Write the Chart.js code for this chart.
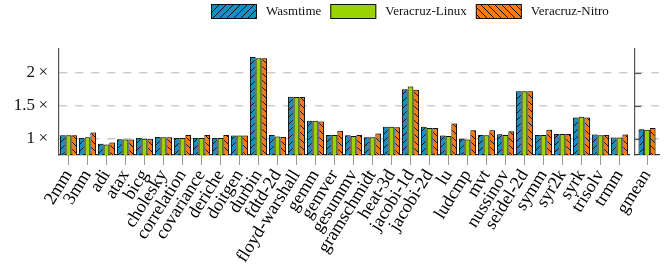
<!DOCTYPE html>
<html><head><meta charset="utf-8">
<script src="https://cdn.jsdelivr.net/npm/chart.js@4"></script>
<style>
html,body{margin:0;padding:0;background:#fff;}
#wrap{position:relative;width:666px;height:273px;overflow:hidden;}
#main{position:absolute;left:0;top:0;}
#gm{position:absolute;left:596px;top:0;}
</style></head><body>
<div id="wrap"><canvas id="main" width="666" height="273"></canvas><canvas id="gm" width="70" height="273"></canvas></div>
<script>
const categories = ['2mm','3mm','adi','atax','bicg','cholesky','correlation','covariance','deriche','doitgen','durbin','fdtd-2d','floyd-warshall','gemm','gemver','gesummv','gramschmidt','heat-3d','jacobi-1d','jacobi-2d','lu','ludcmp','mvt','nussinov','seidel-2d','symm','syr2k','syrk','trisolv','trmm'];
const wasmtime = [1.05,1.01,0.92,0.99,1.01,1.025,1.01,1.01,1.01,1.045,2.24,1.055,1.635,1.27,1.055,1.05,1.02,1.18,1.75,1.18,1.045,0.995,1.055,1.065,1.72,1.055,1.07,1.32,1.06,1.015];
const veracruzLinux = [1.05,1.02,0.91,0.985,0.995,1.02,1.01,1.01,1.01,1.045,2.22,1.03,1.63,1.27,1.055,1.04,1.02,1.18,1.79,1.16,1.04,0.985,1.05,1.055,1.72,1.055,1.07,1.33,1.05,1.015];
const veracruzNitro = [1.05,1.09,0.94,0.985,0.995,1.02,1.055,1.055,1.055,1.045,2.22,1.025,1.63,1.26,1.12,1.055,1.075,1.17,1.74,1.16,1.23,1.125,1.125,1.11,1.72,1.135,1.07,1.32,1.055,1.06];
const gmeanCategories = ['gmean'];
const gmeanWasmtime = [1.14];
const gmeanLinux = [1.135];
const gmeanNitro = [1.16];
const seriesNames = ['Wasmtime','Veracruz-Linux','Veracruz-Nitro'];
const yTickValues = [1, 1.5, 2];
const yTickLabels = ['1\u2009\u00d7','1.5\u2009\u00d7','2\u2009\u00d7'];

const SERIF = '"Liberation Serif", "Times New Roman", serif';
function hatch(color, dir){
  const s = 7, c = document.createElement('canvas');
  c.width = c.height = s;
  const g = c.getContext('2d');
  g.fillStyle = color; g.fillRect(0,0,s,s);
  if (dir !== 0) {
    g.strokeStyle = '#111'; g.lineWidth = 1; g.beginPath();
    if (dir > 0) { g.moveTo(0,s); g.lineTo(s,0); g.moveTo(-2,2); g.lineTo(2,-2); g.moveTo(s-2,s+2); g.lineTo(s+2,s-2); }
    else { g.moveTo(0,0); g.lineTo(s,s); g.moveTo(s-2,-2); g.lineTo(s+2,2); g.moveTo(-2,s-2); g.lineTo(2,s+2); }
    g.stroke();
  }
  return g.createPattern(c,'repeat');
}
const fills = [hatch('#1690c2',1), '#99d400', hatch('#ff7a0a',-1)];

function makeSets(a,b,c){
  return [a,b,c].map((d,i)=>({label:seriesNames[i], data:d, backgroundColor:fills[i], borderColor:'#111', borderWidth:1}));
}
const shadow = {id:'shadow',
  beforeDatasetsDraw(ch){ const x=ch.ctx; x.save(); x.shadowColor='rgba(0,0,0,0.35)'; x.shadowBlur=2; x.shadowOffsetX=1; x.shadowOffsetY=0; },
  afterDatasetsDraw(ch){ ch.ctx.restore(); }};

const legendPlugin = {id:'customLegend', afterDraw(ch){
  const ctx = ch.ctx; ctx.save();
  ctx.font = '13px ' + SERIF; ctx.textBaseline = 'middle';
  let x = 211;
  ch.data.datasets.forEach(ds=>{
    ctx.fillStyle = ds.backgroundColor; ctx.fillRect(x,4,46,15);
    ctx.strokeStyle = '#111'; ctx.lineWidth = 1; ctx.strokeRect(x+0.5,4.5,45,14);
    x += 46 + 9;
    ctx.fillStyle = '#111'; ctx.fillText(ds.label, x, 12);
    x += ctx.measureText(ds.label).width + 9;
  });
  ctx.restore();
}};

function yScale(showLabels){
  return {
    min:0.75, max:2.36,
    afterBuildTicks(s){ s.ticks = yTickValues.map(v=>({value:v})); },
    afterFit(s){ s.width = showLabels ? 59 : 39; s.paddingTop = 0; s.paddingBottom = 0; },
    ticks:{display:showLabels, padding:11, color:'#111', font:{family:SERIF, size:17},
      callback:(v)=>yTickLabels[yTickValues.indexOf(v)]},
    grid:{color:'#cdcdcd', lineWidth:1.5, drawTicks:false},
    border:{color:'#555', width:1.2, dash:[8,8]}
  };
}
function xScale(){
  return {
    afterFit(s){ s.height = 118; s.paddingLeft = 0; s.paddingRight = 0; },
    grid:{display:true, drawOnChartArea:false, offset:false, tickLength:10, color:'#999'},
    border:{color:'#333', width:1.2},
    ticks:{autoSkip:false, minRotation:58, maxRotation:58, padding:1, color:'#000', font:{family:SERIF, size:18}}
  };
}

new Chart(document.getElementById('main'), {
  type:'bar',
  data:{labels:categories, datasets:makeSets(wasmtime, veracruzLinux, veracruzNitro)},
  options:{
    responsive:false, animation:false, devicePixelRatio:1,
    layout:{padding:{top:49, right:37, left:0, bottom:0}},
    datasets:{bar:{categoryPercentage:0.9, barPercentage:1.0}},
    plugins:{legend:{display:false}, tooltip:{enabled:false}},
    scales:{x:xScale(), y:yScale(true)}
  },
  plugins:[shadow, legendPlugin]
});

const innerTicks = {id:'innerTicks', afterDraw(ch){
  const ctx = ch.ctx, ys = ch.scales.y, L = ch.chartArea.left;
  ctx.save(); ctx.strokeStyle='#555'; ctx.lineWidth=1.2;
  yTickValues.forEach(v=>{ const p = Math.round(ys.getPixelForValue(v))+0.5; ctx.beginPath(); ctx.moveTo(L,p); ctx.lineTo(L+6,p); ctx.stroke(); });
  ctx.restore();
}};
new Chart(document.getElementById('gm'), {
  type:'bar',
  data:{labels:gmeanCategories, datasets:makeSets(gmeanWasmtime, gmeanLinux, gmeanNitro)},
  options:{
    responsive:false, animation:false, devicePixelRatio:1,
    layout:{padding:{top:49, right:7, left:0, bottom:0}},
    datasets:{bar:{categoryPercentage:0.71, barPercentage:1.0}},
    plugins:{legend:{display:false}, tooltip:{enabled:false}},
    scales:{x:xScale(), y:yScale(false)}
  },
  plugins:[shadow, innerTicks]
});
</script>
</body></html>
